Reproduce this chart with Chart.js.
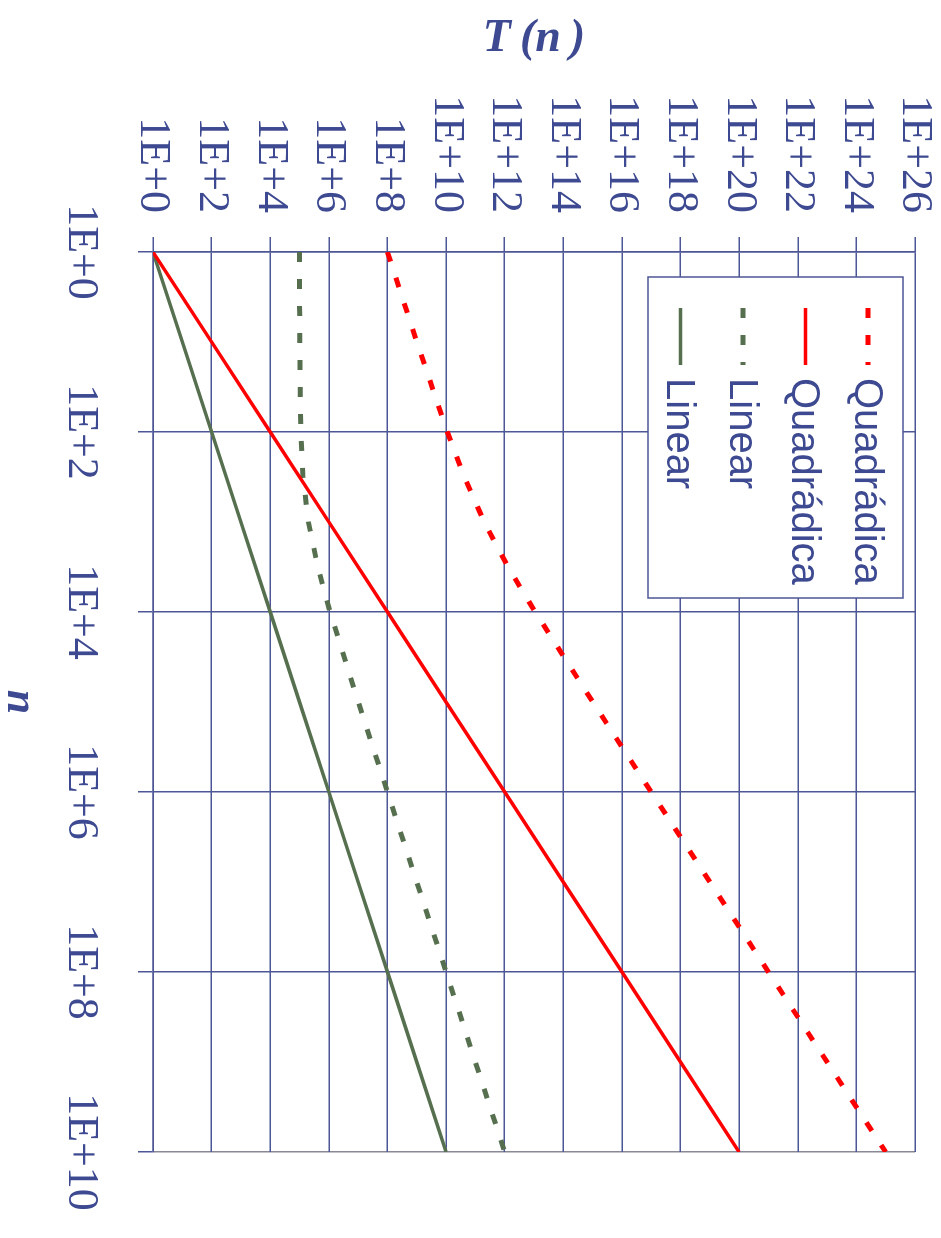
<!DOCTYPE html>
<html><head><meta charset="utf-8">
<script src="https://cdn.jsdelivr.net/npm/chart.js@4/dist/chart.umd.min.js"></script>
<style>
html,body{margin:0;padding:0;background:#fff;overflow:hidden;width:941px;height:1238px;}
#wrap{position:absolute;left:0;top:0;width:1238px;height:941px;transform-origin:0 0;transform:translateX(941px) rotate(90deg);}
canvas{display:block;}
</style></head><body>
<div id="wrap"><canvas id="c" width="1238" height="941"></canvas></div>
<script>
// ---- data ----
const nTicks = [1e0, 1e2, 1e4, 1e6, 1e8, 1e10];
const tTicks = [1e0, 1e2, 1e4, 1e6, 1e8, 1e10, 1e12, 1e14, 1e16, 1e18, 1e20, 1e22, 1e24, 1e26];

const nDecades = [1, 1e1, 1e2, 1e3, 1e4, 1e5, 1e6, 1e7, 1e8, 1e9, 1e10];
const linearSolid = [1, 1e1, 1e2, 1e3, 1e4, 1e5, 1e6, 1e7, 1e8, 1e9, 1e10];
const quadraticSolid = [1, 1e2, 1e4, 1e6, 1e8, 1e10, 1e12, 1e14, 1e16, 1e18, 1e20];

const nDense = [1, 1e1, 1e2, 316, 1e3, 3162, 1e4, 1e5, 1e6, 1e7, 1e8, 1e9, 1e10];
const linearDotted = [1e5, 1.01e5, 1.1e5, 1.32e5, 2e5, 4.2e5, 1.1e6, 1.01e7, 1e8, 1e9, 1e10, 1e11, 1e12];
const quadraticDotted = [1e8, 1.01e9, 1.1e10, 4.2e10, 2e11, 1.3e12, 1.1e13, 1.01e15, 1e17, 1e19, 1e21, 1e23, 1e25];

const seriesLabels = ['Quadrádica', 'Quadrádica', 'Linear', 'Linear'];

// ---- styles ----
const TEXT = '#3d4990';
const GRID = '#4d5796';
const RED = '#ff0000';
const GREEN = '#56704f';

const pts = (xs, ys) => xs.map((x, i) => ({x: x, y: ys[i]}));
const expLabel = v => '1E+' + Math.round(Math.log10(v));

const boxLegend = {
  id: 'boxLegend',
  afterDatasetsDraw(chart) {
    const ctx = chart.ctx, ca = chart.chartArea;
    const bx = ca.left + 25, by = ca.top + 12, bw = 321, bh = 255;
    ctx.save();
    ctx.fillStyle = '#fff';
    ctx.fillRect(bx, by, bw, bh);
    ctx.strokeStyle = GRID;
    ctx.lineWidth = 1.5;
    ctx.strokeRect(bx, by, bw, bh);
    chart.data.datasets.forEach((ds, i) => {
      const yy = by + 35 + i * 62.5;
      ctx.beginPath();
      ctx.setLineDash(ds.borderDash || []);
      ctx.lineDashOffset = 0;
      ctx.strokeStyle = ds.borderColor;
      ctx.lineWidth = ds.borderWidth;
      ctx.moveTo(bx + 31, yy);
      ctx.lineTo(bx + 88, yy);
      ctx.stroke();
      ctx.setLineDash([]);
      ctx.fillStyle = TEXT;
      ctx.font = '40px "Liberation Sans", Arial, sans-serif';
      ctx.textAlign = 'left';
      ctx.textBaseline = 'middle';
      ctx.fillText(ds.label, bx + 101, yy + 2);
    });
    ctx.restore();
  }
};

new Chart(document.getElementById('c'), {
  type: 'line',
  data: {
    datasets: [
      {label: seriesLabels[0], data: pts(nDense, quadraticDotted), borderColor: RED, borderWidth: 5, borderDash: [10, 17]},
      {label: seriesLabels[1], data: pts(nDecades, quadraticSolid), borderColor: RED, borderWidth: 3.5},
      {label: seriesLabels[2], data: pts(nDense, linearDotted), borderColor: GREEN, borderWidth: 5, borderDash: [10, 17]},
      {label: seriesLabels[3], data: pts(nDecades, linearSolid), borderColor: GREEN, borderWidth: 3.5}
    ]
  },
  options: {
    responsive: false,
    animation: false,
    devicePixelRatio: 1,
    layout: {padding: {top: 26, right: 86, left: 0, bottom: 0}},
    elements: {point: {radius: 0}, line: {tension: 0, fill: false, borderCapStyle: 'butt'}},
    plugins: {legend: {display: false}, tooltip: {enabled: false}},
    scales: {
      x: {
        type: 'logarithmic', min: 1, max: 1e10,
        afterBuildTicks: s => { s.ticks = nTicks.map(v => ({value: v})); },
        afterFit: s => { s.height = 153; s.paddingLeft = 0; s.paddingRight = 0; },
        ticks: {
          callback: v => expLabel(v), autoSkip: false, maxRotation: 0, minRotation: 0,
          color: TEXT, padding: 31,
          font: {family: '"Liberation Serif", "Times New Roman", serif', size: 44}
        },
        grid: {
          color: c => (c.tick && c.tick.value === 1e10) ? '#8a8a96' : GRID,
          lineWidth: 1.5, tickLength: 15, tickColor: GRID
        },
        border: {color: GRID, width: 1.5},
        title: {
          display: true, text: 'n', color: TEXT,
          font: {family: '"Liberation Serif", "Times New Roman", serif', size: 44, style: 'italic', weight: 'bold', lineHeight: 0.6},
          padding: {top: 0, bottom: 6}
        }
      },
      y: {
        type: 'logarithmic', min: 1, max: 1e26,
        afterBuildTicks: s => { s.ticks = tTicks.map(v => ({value: v})); },
        afterFit: s => { s.width = 252; s.paddingTop = 0; s.paddingBottom = 0; },
        ticks: {
          callback: v => expLabel(v), autoSkip: false,
          color: TEXT, padding: 24,
          font: {family: '"Liberation Serif", "Times New Roman", serif', size: 44}
        },
        grid: {color: GRID, lineWidth: 1.5, tickLength: 15, tickColor: GRID},
        border: {color: GRID, width: 1.5},
        title: {
          display: true, text: 'T\u2009(n\u2009)', color: TEXT,
          font: {family: '"Liberation Serif", "Times New Roman", serif', size: 46, style: 'italic', weight: 'bold', lineHeight: 1.2},
          padding: {top: 12, bottom: 0}
        }
      }
    }
  },
  plugins: [boxLegend]
});
</script>
</body></html>
